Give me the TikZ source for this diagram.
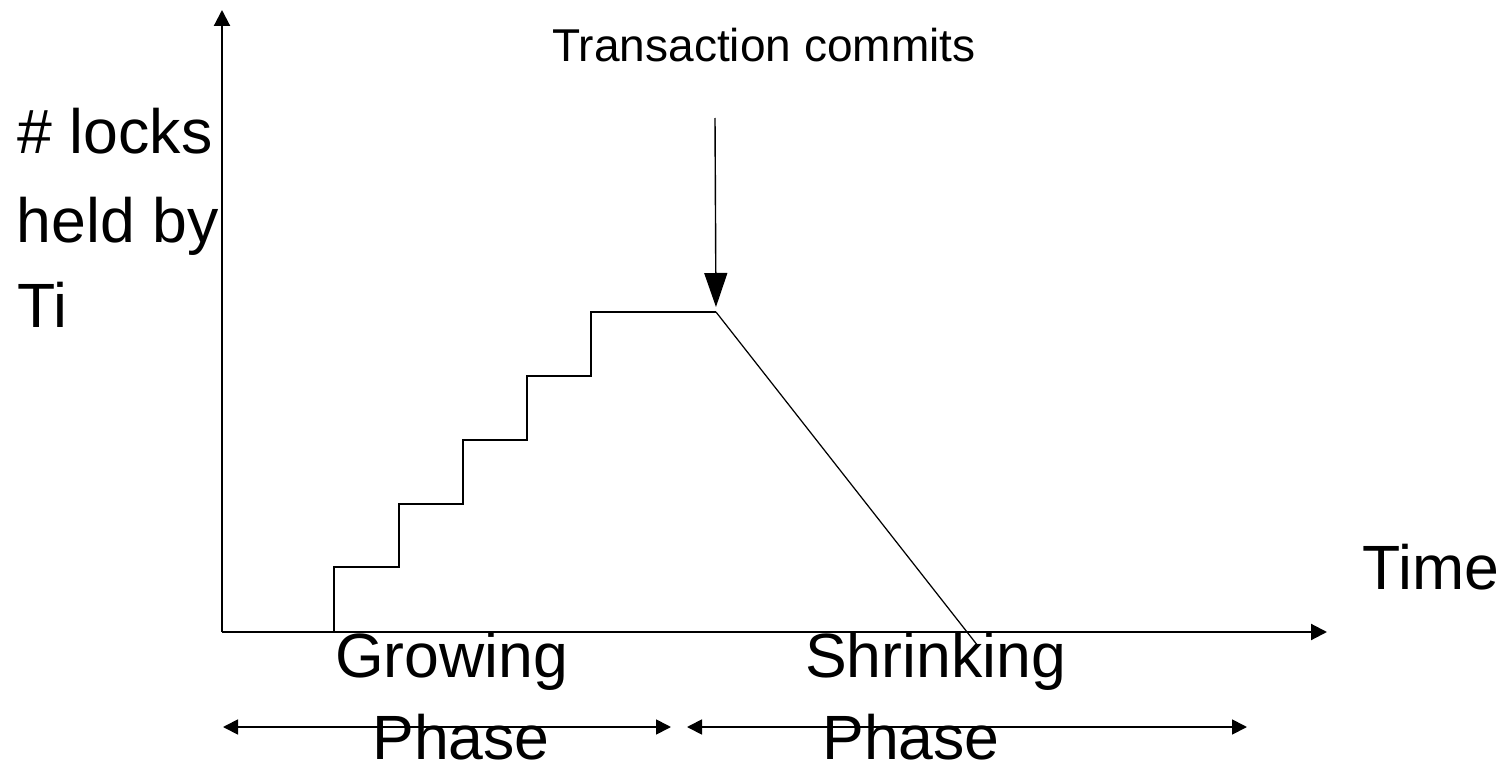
\documentclass[tikz,border=0pt]{standalone}
\usepackage{fontspec}
\setmainfont{Liberation Sans}
\usetikzlibrary{arrows.meta}

\tikzstyle{bigtext}=[inner sep=0pt, font=\fontsize{17.8}{21}\selectfont]
\tikzstyle{smalltext}=[inner sep=0pt, font=\fontsize{13.1}{16}\selectfont]
\tikzstyle{axis}=[line width=0.6pt, -{Triangle[length=1.6mm,width=1.6mm]}]
\tikzstyle{phase}=[line width=0.5pt, {Triangle[length=1.5mm,width=1.5mm]}-{Triangle[length=1.5mm,width=1.5mm]}]

\begin{document}
\begin{tikzpicture}
        \useasboundingbox (0,0) rectangle (15.03,7.67);

        \coordinate (O) at (2.22,1.35);
        \coordinate (ytop) at (2.22,7.57);
        \coordinate (xend) at (13.27,1.35);
        \coordinate (peak) at (7.16,4.55);
        \coordinate (drop) at (9.78,1.21);
        \coordinate (cstart) at (7.15,6.49);

        \coordinate (g1) at (2.23,0.40);
        \coordinate (g2) at (6.71,0.40);
        \coordinate (s1) at (6.87,0.40);
        \coordinate (s2) at (12.47,0.40);

        \node[smalltext, anchor=base](commit) at (7.64,7.06) {Transaction commits};

        \node[bigtext, anchor=base west](locks) at (0.17,6.14) {\# locks};
        \node[bigtext, anchor=base west](held) at (0.16,5.25) {held by};
        \node[bigtext, anchor=base west](ti) at (0.17,4.40) {Ti};
        \node[bigtext, anchor=base west](time) at (13.62,1.78) {Time};

        \node[bigtext, anchor=base](growing) at (4.515,0.90) {Growing};
        \node[bigtext, anchor=base](phase1) at (4.61,0.08) {Phase};
        \node[bigtext, anchor=base](shrinking) at (9.355,0.90) {Shrinking};
        \node[bigtext, anchor=base](phase2) at (9.11,0.08) {Phase};

        \draw[axis] (O) -- (ytop);
        \draw[axis] (O) -- (xend);

        \draw[line width=0.6pt] (3.34,1.35) -- (3.34,2.00) -- (3.99,2.00) -- (3.99,2.63)
            -- (4.63,2.63) -- (4.63,3.27) -- (5.27,3.27) -- (5.27,3.91)
            -- (5.91,3.91) -- (5.91,4.55) -- (peak);
        \draw[line width=0.35pt] (peak) -- (drop);

        \draw[line width=0.4pt, -{Triangle[length=3.4mm,width=2.3mm]}, shorten >=0.5mm] (cstart) -- (peak);

        \draw[phase] (g1) -- (g2);
        \draw[phase] (s1) -- (s2);
    \end{tikzpicture}
\end{document}
